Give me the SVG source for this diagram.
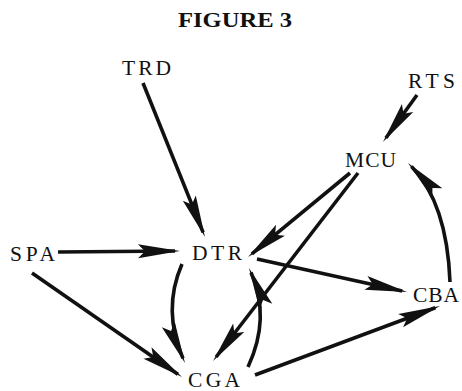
<svg xmlns="http://www.w3.org/2000/svg" width="462" height="391" viewBox="0 0 462 391">
  <style>
    .lbl { font-family: "Liberation Serif", "Times New Roman", serif; font-size: 21.5px; fill: #111; }
    .title { font-family: "Liberation Serif", "Times New Roman", serif; font-size: 21px; font-weight: bold; fill: #111; }
    .edge { fill: none; stroke: #111; stroke-width: 3.6; stroke-linecap: butt; marker-end: url(#head); }
  </style>
  <defs>
    <!-- slender wedge arrowhead; tip sits 5px beyond the path end -->
    <marker id="head" markerUnits="userSpaceOnUse" orient="auto" viewBox="-40 -10 48 20" refX="0" refY="0" markerWidth="48" markerHeight="20" overflow="visible">
      <path d="M5,0 L-37,-7 L-30,0 L-37,7 Z" fill="#111"/>
    </marker>
  </defs>

  <rect width="462" height="391" fill="#fff"/>

  <text class="title" x="178" y="27" textLength="114" lengthAdjust="spacingAndGlyphs">FIGURE 3</text>

  <g id="edges">
    <path class="edge" d="M143,83 L203.1,232.4"/>
    <path class="edge" d="M417,95 L385.9,138"/>
    <path class="edge" d="M58,252 L175,251"/>
    <path class="edge" d="M32,273 L177.9,374.2"/>
    <path class="edge" d="M182,264 Q162,310 183,358.4"/>
    <path class="edge" d="M248,367 Q271,318 251,272.6"/>
    <path class="edge" d="M350,173 L251.9,253.8"/>
    <path class="edge" d="M358,173 L216.1,357"/>
    <path class="edge" d="M257,259 L402.1,290.9"/>
    <path class="edge" d="M255,375 L435.3,307.7"/>
    <path class="edge" d="M450,282 Q447,203 411.5,166.6"/>
  </g>

  <g id="TRD"><text class="lbl" x="122" y="75" textLength="49" lengthAdjust="spacing">TRD</text></g>
  <g id="RTS"><text class="lbl" x="408" y="88" textLength="47" lengthAdjust="spacing">RTS</text></g>
  <g id="MCU"><text class="lbl" x="345" y="167" textLength="51" lengthAdjust="spacing">MCU</text></g>
  <g id="SPA"><text class="lbl" x="10" y="261" textLength="45" lengthAdjust="spacing">SPA</text></g>
  <g id="DTR"><text class="lbl" x="192" y="260" textLength="50" lengthAdjust="spacing">DTR</text></g>
  <g id="CBA"><text class="lbl" x="413" y="302" textLength="46" lengthAdjust="spacing">CBA</text></g>
  <g id="CGA"><text class="lbl" x="188" y="387" textLength="52" lengthAdjust="spacing">CGA</text></g>
</svg>
